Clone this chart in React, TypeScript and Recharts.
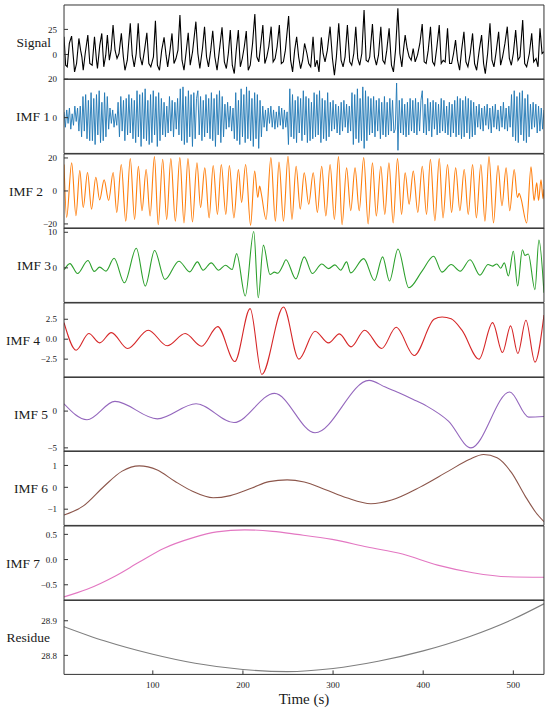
import React from 'react';
import { LineChart, Line, XAxis, YAxis } from 'recharts';

type Pt = [number, number];

// shared time axis (s)
const timeTicks = [100, 200, 300, 400, 500];
const timeDomain: [number, number] = [1.5, 534];

// [time, value]
const signal: Pt[] = [
  [1.5, 17.7], [3.3, -10.7], [5.1, -12.3], [7.4, 11], [9.9, 18.3], [11.8, -2.3], [13.2, -17.3], [15.4, -9],
  [18, 16], [19.9, 4.3], [21.3, -2.3], [22.8, -15.7], [25, 1], [27.9, 19.3], [30.1, -9], [32.7, -10.7],
  [35.3, 17.7], [37.5, -5.7], [38.6, -14], [41.2, 9.3], [43.4, 21], [45.6, -12.3], [47.8, -0.7], [49.6, 19.3],
  [51.8, -5.7], [53.7, 4.3], [55.9, 29.3], [58.1, 4.3], [60.3, -4], [62.5, 1], [65.1, 21], [67.3, -2.3],
  [69.1, -15.7], [71.7, -5.7], [75, 31], [77.2, -0.7], [79.4, -12.3], [81.6, 1], [83.8, 31], [86, -2.3],
  [88.2, -10.7], [90.8, 4.3], [93.4, 21.7], [95.6, -9], [97.8, -12.3], [100.7, -2.3], [102.9, 33.7], [105.1, -10.7],
  [107.4, -15.7], [109.9, 4.3], [112.5, 17], [114.7, -0.7], [116.5, -12.3], [119.1, 4.3], [121.3, 21], [123.5, -9],
  [125.7, -4], [127.9, 4.3], [130.1, 39.3], [132.4, -5.7], [134.6, -15.7], [136.8, 1], [139.3, 21.7], [141.5, -10.7],
  [144.1, 2.7], [147.8, 32.7], [150, 1], [152.2, -14], [155.1, 6], [157.4, 27.7], [159.6, -2.3], [161.8, -12.3],
  [164.3, 4.3], [166.5, 23.7], [168.8, -2.3], [171.3, -15.7], [173.9, 4.3], [176.8, 27], [179.4, -7.3], [181.6, -14],
  [183.8, 1], [186, 24.3], [188.2, -10.7], [190.4, -19], [192.6, 4.3], [194.9, 24.3], [197.1, -12.3], [199.3, -4],
  [201.5, 7.7], [203.7, 23.3], [205.9, -15.7], [208.1, -10.7], [210.7, 11], [213.2, 40.3], [215.4, -2.3], [217.6, -7.3],
  [219.9, 11], [222.1, 29.3], [224.3, -9], [226.5, -2.3], [228.7, 7.7], [231.3, 27.7], [233.5, -7.3], [235.7, -4],
  [237.9, 7.7], [240.4, 29.3], [242.6, -9], [244.9, -7.3], [247.1, 4.3], [250.7, 38.3], [252.9, -5.7], [255.1, -17.3],
  [257.4, 4.3], [259.6, 17.7], [261.8, -2.3], [264, -14], [266.2, -5.7], [268.4, 11], [271, 1], [273, -9],
  [275.2, -12.3], [277.8, 17.7], [280, -12.3], [282.2, -5.7], [284.4, -17.3], [287, 17], [288.9, 1], [291.1, -7.3],
  [293.7, 4.3], [296.7, 27.7], [299.3, -4], [301.5, -20.7], [303.7, -2.3], [306.3, 31], [308.9, -5.7], [311.1, -12.3],
  [313.3, -2.3], [315.9, 29.3], [318.5, -7.3], [320.7, -10.7], [323, 1], [325.2, 27.7], [327.4, -4], [329.6, -10.7],
  [331.9, 1], [334.4, 44.3], [336.7, -5.7], [338.9, -7.3], [340.7, -2.3], [343.7, 30.3], [345.9, -2.3], [348.1, -10.7],
  [350.4, -0.7], [353, 27.7], [355.2, -5.7], [357.4, -9], [359.6, 4.3], [362.2, 26], [364.8, -10.7], [367, -17.3],
  [369.3, 4.3], [371.9, 46], [374.1, 1], [376.3, -12.3], [378.1, 4.3], [380, 19.3], [382.2, 6], [384.4, -2.3],
  [386.7, -5.7], [388.9, 6], [391.1, -7.3], [393.7, -0.7], [396.3, 11], [398.9, 30.3], [401.1, -7.3], [403.3, -9],
  [405.6, 4.3], [408.1, 27.7], [410.4, -7.3], [412.6, -10.7], [415.2, 7.7], [417.8, 29.3], [420, -9], [422.2, -5.7],
  [424.4, -7.3], [427, 26], [429.3, -9], [431.5, -9], [433.7, 1], [435.9, 14.3], [438.1, -5.7], [440.4, -15.7],
  [442.6, 4.3], [445.2, 22.7], [447.4, -7.3], [449.6, -12.3], [452.2, 1], [454.8, 21], [457, -9], [459.3, -15.7],
  [462.2, 4.3], [464.8, 19.3], [467, -9], [468.9, -19], [471.5, 1], [474.1, 31], [476.3, -5.7], [478.5, -12.3],
  [480.7, 1], [483.7, 22.7], [485.9, -10.7], [488.1, -2.3], [490.7, 11], [493.3, 27.7], [495.6, -4], [497.8, -10.7],
  [500, 1], [502.6, 24.3], [505.2, -5.7], [507.4, -2.3], [510.4, 34.3], [512.6, -9], [514.8, -12.3], [517.8, 1],
  [520.4, 21], [522.6, -7.3], [525.2, -4], [527.4, -12.3], [529.6, 26], [531.9, 1], [534, 2.7],
];

// IMF 1: one reading every 1.5 s, starting at t = 1.5
const imf1Start = 1.5;
const imf1Step = 1.5;
const imf1Values = [
  3, -5, 4, -3, 5, -6, 2, -4, 6, -2, 5, -7, 6,
  -10, 11, -7, 12, -11, 9, -12,
  13, -12, 10, -14, 12, -9, 14, -13, 8, -12, 13, -10, 11,
  -6, 5, -3, 4, -5, 2, -4,
  8, -10, 11, -7, 9, -12, 10, -9, 12, -8, 10, -11, 9,
  -13, 14, -10, 12, -15, 13, -11, 15, -12, 9, -14, 12, -13, 14, -9, 11, -15, 13, -12, 10,
  -9, 8, -10, 6, -8, 11, -7, 9, -10, 8, -6, 10, -9,
  15, -12, 16, -14, 11, -13, 14, -10, 12, -15, 13, -11, 10,
  14, -9, 11, -12, 9, -10, 12, -8, 10, -11,
  13, -12, 10, -15, 12, -9, 14, -13, 11, -10,
  7, -6, 8, -5, 6, -7, 5,
  -11, 13, -12, 9, -14, 15, -10, 12, -13, 16, -11, 14, -12, 10, -15, 13, -11, 12, -16, 9, -10,
  6, -5, 4, -7, 5, -3, 6, -5, 4, -6, 3, -5, 6, -4, 5, -6, 4, -5, 3,
  -14, 15,
  -10, 12, -11, 9, -13, 11, -8, 10, -12, 14, -9, 11, -13, 10, -12, 8, -11, 13, -10, 12, -9, 14, -13, 10, -11, 9, -12, 13, -10,
  8, -7, 9, -6, 7, -8, 6, -9, 8, -7, 9, -5, 7, -8, 6, -7,
  13, -14, 12, -11, 15, -13, 10, -12, 16, -16, 14, -12, 11,
  -9, 10, -8, 11, -10, 9, -7, 10, -11, 8, -9, 11, -10, 8, -9, 10, -7, 9, -8,
  -6, 18, -17,
  9, -8, 10, -9, 7, -10, 8, -9, 10, -7, 9, -8, 10, -9, 8, -7, 9,
  14,
  -8, 7, -9, 10, -7, 8, -10, 9, -6, 8, -9, 7, -8, 10, -7, 9, -8, 6, -9, 8, -10, 7, -8, 9,
  -10, 11, -9, 10, -11, 9, -10, 11, -8, 10, -11, 9, -10, 8, -9,
  6, -5, 7, -6, 5, -7, 6, -4, 7, -6, 5, -8, 6, -5, 7, -6, 4, -7, 6, -5, 8, -6, 5, -7, 6, -5,
  12, -10, 14, -12, 11, -13, 13, -9, 14, -12, 10, -13, 12, -10,
  7, -6, 8, -5, 7, -8, 6, -7, 5, -6, 4,
];

const imf2: Pt[] = [
  [1.5, 16], [4.4, -16], [10, 17], [14.7, -15], [19, 12.3], [22.8, -10], [27.6, 11.2], [32, -11],
  [36.8, 8.3], [41, -5.4], [46, 6.7], [51, -5.8], [56, 11.2], [60, -13], [65, 16], [70, -18.3],
  [75, 19.6], [79.8, -17.3], [84, 15], [88, -12], [92.6, 13], [97, -15.2], [101.8, 20.8], [106, -20.4],
  [111, 19.2], [115.4, -17.3], [120, 19.6], [125, -18.3], [130, 20.2], [134.6, -19.4], [139, 19.6], [144, -18.8],
  [149, 17], [153, -10], [157.7, 14], [162.5, -16.3], [167, 15.4], [171.7, -14.2], [176, 16], [181, -14.2],
  [185, 15.4], [190, -16.3], [195, 13], [198.5, -6.9], [203, 16], [208.5, -20.8], [213, 12], [216.5, -4],
  [218.5, 3], [220.5, -2], [225.7, -17.3], [231, 20.2], [236, -18.3], [240, 17.5], [245, -18.3], [250, 21],
  [254.4, -17.3], [259, 15], [263.6, -11], [268, 11], [273, -8], [278, 11], [282.6, -13], [287.4, 15],
  [292, -15.2], [296.7, 16], [301.5, -17.3], [306, 20.8], [310, -20.4], [315, 14], [319.6, -12], [324.4, 14],
  [329, -12], [334, 20.2], [338.9, -20], [343.7, 17], [348, -15.2], [353, 15], [357.4, -14.2], [362, 17],
  [366.7, -19.4], [371.5, 19.6], [376, -14.2], [380, 11], [384.4, -8], [389, 12], [394, -13], [399, 15],
  [403.7, -14.2], [408, 19.2], [413, -18], [417.8, 19.6], [422, -16.3], [427, 16], [431.5, -13], [436, 14],
  [440.7, -12], [445.5, 13], [450, -14.2], [454.8, 16], [459, -16.3], [464, 16], [468.5, -18.3], [473, 20.8],
  [478, -19.4], [483, 15.4], [487.4, -9], [492, 14], [496, -12], [501, 13], [504.5, -4], [506.5, -1.5],
  [508.5, -4.5], [514.8, -19.4], [519.6, 14.6], [523, -5.8], [526, 5], [528, -5.8], [530.7, 6.7], [533, -4.8],
  [534, 1],
];

const imf3: Pt[] = [
  [1.8, -0.5], [8, 1.2], [16.5, -1.6], [28, 2.06], [35, -1.0], [41, 0.2], [48, -0.93], [57, 2.7],
  [68.5, -4.2], [81.7, 5.5], [91.6, -5.1], [102, 4.86], [113.5, -3.27], [129, 1.87], [141, -1.12], [149.5, 1.68],
  [155.7, -0.65], [164.8, 1.4], [173, -0.65], [180.6, 0.75], [188, -0.47], [193, 4.0], [202.6, -7.9], [212, 10.2],
  [217, -8.4], [222.7, 6.4], [230, -1.87], [235, -1.2], [238.5, -1.5], [244, 0.5], [247.7, 2.3], [258.7, -3.1],
  [268, 3.1], [277, -1.6], [287.5, 1.1], [295, -0.2], [302, 0.84], [308.5, -0.65], [315, 1.68], [319.5, -1.4],
  [334, 2.6], [346, -3.55], [355, 3.1], [362.6, -3.7], [372, 5.3], [384, -5.6], [398.7, -0.93], [411.6, 3.27],
  [420.8, -1.2], [431, 0.93], [441, -0.93], [452, 2.3], [463, -2.05], [472, 0.93], [476.8, 0.5], [481.6, 1.1],
  [486, -0.1], [490, 1.4], [494.5, -2.3], [500, 4.67], [504.8, -5.1], [510, 5.1], [512.9, 3.5], [516.6, 3.9],
  [524, -6.1], [528.4, 7.8], [534, -7.0],
];

const imf4: Pt[] = [
  [1.5, 2.08], [15, -1.38], [29, 0.71], [41, -0.46], [54, 0.83], [72, -1.17], [95, 1.13], [116, -0.83],
  [136, 0.71], [154, -0.88], [172, 1.58], [191, -2.8], [208, 3.83], [221, -4.42], [245, 4.04], [262, -2.5],
  [280, 1.0], [295, -0.46], [307, 0.67], [320, -0.96], [335, 1.13], [354, -1.17], [370, 1.5], [390, -2.04],
  [412, 2.5], [421, 2.79], [431, 2.55], [443, 1.13], [462, -2.5], [477, 2.08], [488, -1.67], [497, 1.67],
  [505, -1.79], [514, 2.38], [524, -2.88], [534, 3.04],
];

const imf5: Pt[] = [
  [1.5, 1.0], [27, -1.18], [58, 1.32], [105, -1.05], [148, 1.0], [190, -1.55], [235, 2.41], [280, -2.95],
  [340, 4.18], [358, 3.27], [373, 2.5], [389, 1.59], [404, 0.68], [428, -1.36], [453, -5.0], [496, 2.59],
  [517, -0.82], [534, -0.73],
];

const imf6: Pt[] = [
  [1.5, -1.27], [23, -0.85], [46, 0.05], [66, 0.74], [85, 0.98], [105, 0.79], [124, 0.29], [144, -0.18],
  [167, -0.48], [186, -0.38], [210, -0.03], [229, 0.26], [249, 0.34], [268, 0.24], [291, -0.1], [315, -0.48],
  [342, -0.75], [365, -0.58], [397, 0.02], [428, 0.74], [451, 1.27], [467, 1.5], [482, 1.35], [498, 0.67],
  [513, -0.39], [525, -1.15], [534, -1.57],
];

const imf7: Pt[] = [
  [1.5, -0.74], [27, -0.59], [58, -0.33], [85, -0.05], [112, 0.22], [144, 0.43], [171, 0.55], [202, 0.59],
  [233, 0.56], [260, 0.5], [299, 0.4], [338, 0.25], [377, 0.11], [416, -0.11], [455, -0.26], [494, -0.34],
  [534, -0.35],
];

const residue: Pt[] = [
  [1.5, 28.883], [46, 28.842], [100, 28.803], [147, 28.777], [200, 28.759], [249, 28.753], [300, 28.762],
  [350, 28.783], [400, 28.813], [451, 28.854], [500, 28.905], [534, 28.949],
];

const imf1: Pt[] = imf1Values.map((v, i) => [imf1Start + i * imf1Step, v]);

const withMinus = (s: string) => s.replace('-', '\u2212');
const fmtInt = (v: number) => withMinus(String(v));
const fmtOne = (v: number) => withMinus(v.toFixed(1));

interface PanelCfg {
  name: string;
  pts: Pt[];
  color: string;
  domain: [number, number];
  ticks: number[];
  fmt: (v: number) => string;
  labelRight: number;
  curve: 'linear' | 'monotone';
  width: number;
}

const panels: PanelCfg[] = [
  { name: 'Signal', pts: signal, color: '#000000', domain: [-24.8, 49.3], ticks: [0, 25], fmt: fmtInt, labelRight: 51, curve: 'linear', width: 1.1 },
  { name: 'IMF 1', pts: imf1, color: '#1f77b4', domain: [-18.6, 20.1], ticks: [0, 20], fmt: fmtInt, labelRight: 50, curve: 'linear', width: 0.9 },
  { name: 'IMF 2', pts: imf2, color: '#ff7f0e', domain: [-22.7, 22.4], ticks: [-20, 0, 20], fmt: fmtInt, labelRight: 43, curve: 'monotone', width: 1.1 },
  { name: 'IMF 3', pts: imf3, color: '#2ca02c', domain: [-9.7, 11.2], ticks: [0, 10], fmt: fmtInt, labelRight: 51, curve: 'monotone', width: 1.1 },
  { name: 'IMF 4', pts: imf4, color: '#d62728', domain: [-4.79, 4.54], ticks: [-2.5, 0, 2.5], fmt: fmtOne, labelRight: 40, curve: 'monotone', width: 1.1 },
  { name: 'IMF 5', pts: imf5, color: '#9467bd', domain: [-5.48, 4.64], ticks: [-5, 0], fmt: fmtInt, labelRight: 48, curve: 'monotone', width: 1.1 },
  { name: 'IMF 6', pts: imf6, color: '#8c564b', domain: [-1.74, 1.66], ticks: [-1, 0, 1], fmt: fmtInt, labelRight: 48, curve: 'monotone', width: 1.1 },
  { name: 'IMF 7', pts: imf7, color: '#e377c2', domain: [-0.81, 0.666], ticks: [-0.5, 0, 0.5], fmt: fmtOne, labelRight: 40, curve: 'monotone', width: 1.1 },
  { name: 'Residue', pts: residue, color: '#7f7f7f', domain: [28.745, 28.96], ticks: [28.8, 28.9], fmt: fmtOne, labelRight: 50, curve: 'monotone', width: 1.1 },
];

const FONT = '"Liberation Serif", "DejaVu Serif", serif';
const FRAME = '#333333';
const INK = '#1a1a1a';
const PANEL_TOP = 5;
const PANEL_H = 74.4;
const PLOT_LEFT = 64;
const CHART_W = 550;
const BOTTOM_BAND = 36;

const tickStyle = { fontSize: 9, fill: INK, fontFamily: FONT };

const css = `
.recharts-surface { overflow: visible; }
.recharts-wrapper text { font-family: ${FONT}; }
`;

function Panel({ cfg, index, last }: { cfg: PanelCfg; index: number; last: boolean }) {
  const rows = cfg.pts.map(([t, v]) => ({ t, v }));
  const h = PANEL_H + 1 + (last ? BOTTOM_BAND : 1);
  const mid = 1 + PANEL_H / 2;

  return (
    <div style={{ position: 'absolute', left: 0, top: PANEL_TOP + index * PANEL_H - 1, width: CHART_W, height: h }}>
      <LineChart width={CHART_W} height={h} data={rows} margin={{ top: 0, right: 5, bottom: 0, left: 0 }}>
        <XAxis
          xAxisId="top"
          orientation="top"
          dataKey="t"
          type="number"
          domain={timeDomain}
          ticks={timeTicks}
          interval={0}
          allowDataOverflow
          height={1}
          tick={false}
          tickSize={-4}
          axisLine={{ stroke: FRAME }}
          tickLine={{ stroke: FRAME }}
        />
        <XAxis
          xAxisId="bottom"
          orientation="bottom"
          dataKey="t"
          type="number"
          domain={timeDomain}
          ticks={timeTicks}
          interval={0}
          allowDataOverflow
          height={last ? BOTTOM_BAND : 1}
          tick={last ? tickStyle : false}
          tickSize={-4}
          tickMargin={11}
          axisLine={{ stroke: FRAME }}
          tickLine={{ stroke: FRAME }}
          label={
            last
              ? () => (
                  <text x={(PLOT_LEFT + CHART_W - 6) / 2} y={105} textAnchor="middle" fontSize={15} fontFamily={FONT} fill={INK}>
                    Time (s)
                  </text>
                )
              : undefined
          }
        />
        <YAxis
          yAxisId="left"
          orientation="left"
          dataKey="v"
          type="number"
          domain={cfg.domain}
          ticks={cfg.ticks}
          interval={0}
          allowDataOverflow
          width={PLOT_LEFT}
          tick={tickStyle}
          tickFormatter={cfg.fmt}
          tickSize={-4}
          tickMargin={11}
          axisLine={{ stroke: FRAME }}
          tickLine={{ stroke: FRAME }}
          label={() => (
            <text x={cfg.labelRight} y={mid} dy="0.35em" textAnchor="end" fontSize={13.5} fontFamily={FONT} fill={INK}>
              {cfg.name}
            </text>
          )}
        />
        <YAxis
          yAxisId="right"
          orientation="right"
          dataKey="v"
          type="number"
          domain={cfg.domain}
          ticks={cfg.ticks}
          interval={0}
          allowDataOverflow
          width={1}
          tick={false}
          tickSize={-4}
          axisLine={{ stroke: FRAME }}
          tickLine={{ stroke: FRAME }}
        />
        <Line
          xAxisId="bottom"
          yAxisId="left"
          dataKey="v"
          type={cfg.curve}
          stroke={cfg.color}
          strokeWidth={cfg.width}
          dot={false}
          activeDot={false}
          isAnimationActive={false}
        />
      </LineChart>
    </div>
  );
}

export default function App() {
  return (
    <div style={{ position: 'absolute', left: 0, top: 0, width: 550, height: 710, background: '#ffffff', fontFamily: FONT }}>
      <style>{css}</style>
      {panels.map((cfg, i) => (
        <Panel key={cfg.name} cfg={cfg} index={i} last={i === panels.length - 1} />
      ))}
    </div>
  );
}
